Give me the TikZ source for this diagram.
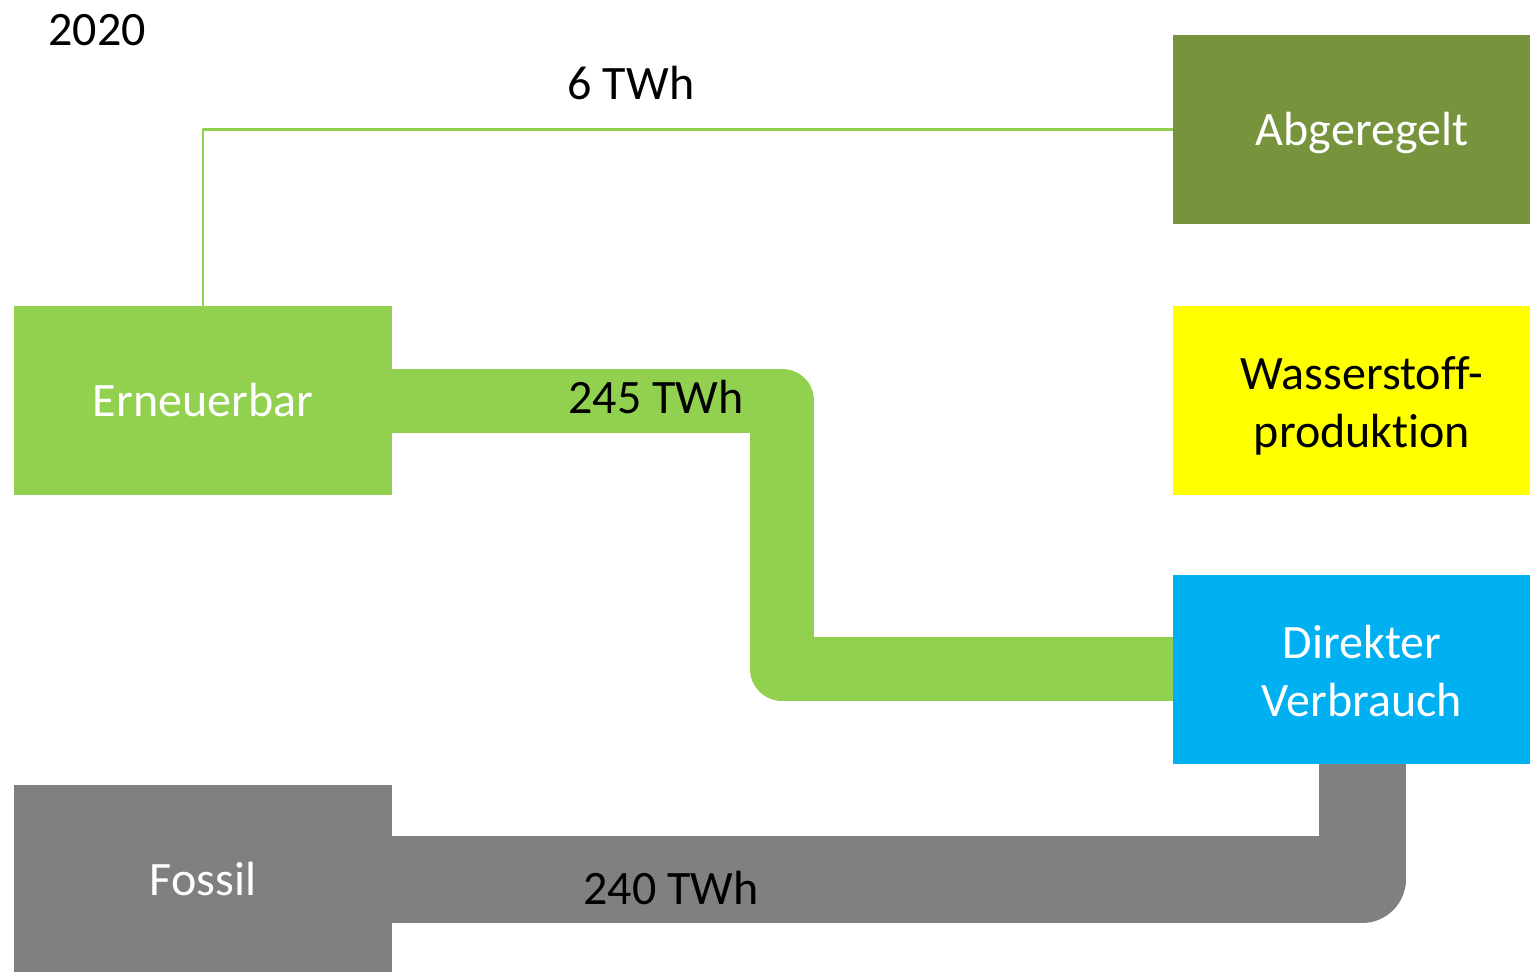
\documentclass[tikz,border=0pt]{standalone}
\usepackage{fontspec}
\setmainfont[Ligatures={NoCommon}]{Carlito}
\definecolor{renew}{HTML}{92D050}
\definecolor{curtail}{HTML}{77933C}
\definecolor{hydro}{HTML}{FFFF00}
\definecolor{direct}{HTML}{00B0F0}
\definecolor{fossil}{HTML}{808080}
% box captions: first baseline placed at a fixed offset from the box centre
\newcommand\boxcaption[2][-16pt]{\raisebox{#1}[0pt][0pt]{\begin{tabular}[t]{@{}c@{}}#2\end{tabular}}}
\tikzset{
  flowbox/.style={draw=none, minimum width=378pt, minimum height=189pt, inner sep=0pt,
    text=white, font=\fontsize{48}{58}\selectfont},
  flowlabel/.style={inner sep=0pt, text=black, font=\fontsize{48}{58}\selectfont},
  band/.style={line width=#1, line join=round, line cap=butt},
}
\begin{document}
\begin{tikzpicture}[x=1pt,y=-1pt]
\useasboundingbox (0,0) rectangle (1530,971);
\clip (0,0) rectangle (1530,971);

% source and sink boxes
\node[flowbox, fill=renew]   (ern) at (203,400.5) {\boxcaption{Erneuerbar}};
\node[flowbox, fill=fossil]  (fos) at (203,879.5) {\boxcaption{Fossil}};
\node[flowbox, fill=curtail] (abg) at (1362,129.5) {\boxcaption{Abgeregelt}};
\node[flowbox, fill=hydro, text=black] (h2) at (1362,400) {\boxcaption[11pt]{Wasserstoff-\\produktion}};
\node[flowbox, fill=direct]  (dir) at (1362,669) {\boxcaption[11pt]{Direkter\\Verbrauch}};

% flows
\draw[band=2pt, renew] (ern.north) |- (abg.west);
\draw[band=64pt, renew] (ern.east) -- ++(390,0) coordinate (bend) |- (dir.west);
\draw[band=87pt, fossil] (fos.east) -| (dir.south);

% labels
\node[flowlabel] (year) at (97,30) {2020};
\node[flowlabel] (l6) at (631,83) {6 TWh};
\node[flowlabel] (l245) at (656,397) {245 TWh};
\node[flowlabel] (l240) at (671,888) {240 TWh};
\end{tikzpicture}
\end{document}
